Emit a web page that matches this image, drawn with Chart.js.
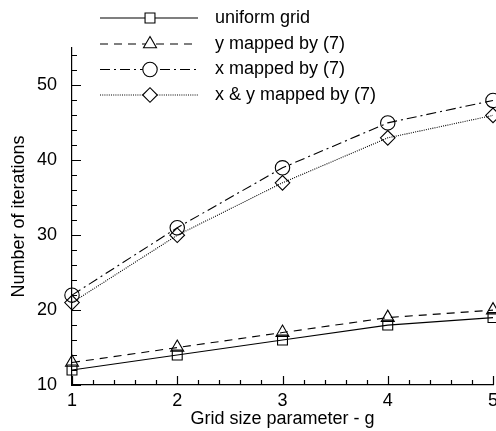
<!DOCTYPE html>
<html>
<head>
<meta charset="utf-8">
<style>
  html, body { margin: 0; padding: 0; background: #fff; }
  #wrap { width: 496px; height: 431px; }
</style>
<script src="https://cdn.jsdelivr.net/npm/chart.js@4/dist/chart.umd.min.js"></script>
</head>
<body>
<div id="wrap"><canvas id="c" width="496" height="431"></canvas></div>
<script>
// Iteration counts per grid size parameter g
const gridSizes = [1, 2, 3, 4, 5];
const uniformGrid = [12, 14, 16, 18, 19];
const yMapped = [13, 15, 17, 19, 20];
const xMapped = [22, 31, 39, 45, 48];
const xyMapped = [21, 30, 37, 43, 46];
const seriesNames = ['uniform grid', 'y mapped by (7)', 'x mapped by (7)', 'x & y mapped by (7)'];
const xTickLabels = [1, 2, 3, 4, 5];
const yTickLabels = [10, 20, 30, 40, 50];

const FONT = '"Liberation Sans", Arial, Helvetica, sans-serif';
const FS = 18;

function toPoints(values) {
  return gridSizes.map((g, i) => ({ x: g, y: values[i] }));
}

const styles = [
  { dash: [], point: 'rect', radius: 7 },
  { dash: [8, 6], point: 'triangle', radius: 7.5 },
  { dash: [10, 4, 2, 4], point: 'circle', radius: 7.2 },
  { dash: [1, 1.2], point: 'rectRot', radius: 7.3 }
];
const seriesValues = [uniformGrid, yMapped, xMapped, xyMapped];

const datasets = seriesValues.map((vals, i) => ({
  label: seriesNames[i],
  data: toPoints(vals),
  borderColor: '#000',
  borderWidth: 1.1,
  borderDash: styles[i].dash,
  pointStyle: styles[i].point,
  pointRadius: styles[i].radius,
  pointBorderWidth: 1.1,
  pointBorderColor: '#000',
  pointBackgroundColor: 'rgba(0,0,0,0)',
  fill: false,
  tension: 0,
  clip: false
}));

// Inward-pointing major and minor tick marks on both axes
const inwardTicks = {
  id: 'inwardTicks',
  afterDraw(chart) {
    const ctx = chart.ctx;
    const xs = chart.scales.x, ys = chart.scales.y;
    const area = chart.chartArea;
    ctx.save();
    ctx.strokeStyle = '#000';
    ctx.lineWidth = 1.2;
    ctx.beginPath();
    for (let v = ys.min; v <= ys.max - 1 + 1e-9; v += 2) {
      const py = Math.round(ys.getPixelForValue(v)) + 0.5;
      const len = (v % 10 === 0) ? 9 : 5;
      ctx.moveTo(area.left, py);
      ctx.lineTo(area.left + len, py);
    }
    for (let k = 0; k <= 20; k++) {
      const v = xs.min + k * 0.2;
      const px = Math.round(xs.getPixelForValue(v)) + 0.5;
      const len = (k % 5 === 0) ? 9 : 5;
      ctx.moveTo(px, area.bottom);
      ctx.lineTo(px, area.bottom - len);
    }
    ctx.stroke();
    ctx.restore();
  }
};

// Legend rows: line sample with centred marker, then the series name
const lineLegend = {
  id: 'lineLegend',
  afterDraw(chart) {
    const ctx = chart.ctx;
    const x0 = 100, x1 = 198, xm = 150, tx = 215;
    const rows = [18, 44, 69.5, 95];
    ctx.save();
    chart.data.datasets.forEach((ds, i) => {
      const y = rows[i];
      ctx.strokeStyle = '#000';
      ctx.lineWidth = 1.1;
      ctx.setLineDash(ds.borderDash);
      ctx.beginPath();
      ctx.moveTo(x0, y);
      ctx.lineTo(x1, y);
      ctx.stroke();
      ctx.setLineDash([]);
      ctx.fillStyle = '#fff';
      Chart.helpers.drawPoint(ctx, {
        pointStyle: ds.pointStyle, radius: ds.pointRadius, borderWidth: 1.1
      }, xm, y);
      ctx.fillStyle = '#000';
      ctx.font = FS + 'px ' + FONT;
      ctx.textAlign = 'left';
      ctx.textBaseline = 'middle';
      ctx.fillText(ds.label, tx, y);
    });
    ctx.restore();
  }
};

new Chart(document.getElementById('c'), {
  type: 'line',
  data: { datasets },
  options: {
    responsive: false,
    devicePixelRatio: 1,
    animation: false,
    layout: { autoPadding: false, padding: { top: 48, right: 3, left: 0, bottom: 0 } },
    plugins: { legend: { display: false }, tooltip: { enabled: false } },
    scales: {
      x: {
        type: 'linear',
        min: 1,
        max: 5,
        afterBuildTicks(scale) { scale.ticks = xTickLabels.map(v => ({ value: v })); },
        afterFit(scale) { scale.height = 46; scale.paddingLeft = 0; scale.paddingRight = 0; },
        grid: { display: false, drawTicks: false },
        border: { display: true, color: '#000', width: 1.2 },
        ticks: { color: '#000', padding: 5, maxRotation: 0, font: { family: FONT, size: FS } },
        title: { display: true, text: 'Grid size parameter - g', color: '#000',
                 padding: { top: 0, bottom: 1 }, font: { family: FONT, size: FS } }
      },
      y: {
        type: 'linear',
        min: 10,
        max: 55,
        afterBuildTicks(scale) { scale.ticks = yTickLabels.map(v => ({ value: v })); },
        afterFit(scale) { scale.width = 72; scale.paddingTop = 0; scale.paddingBottom = 0; },
        grid: { display: false, drawTicks: false },
        border: { display: true, color: '#000', width: 1.2 },
        ticks: { color: '#000', padding: 15, font: { family: FONT, size: FS } },
        title: { display: true, text: 'Number of iterations', color: '#000',
                 padding: { top: 8, bottom: 0 }, font: { family: FONT, size: FS } }
      }
    }
  },
  plugins: [inwardTicks, lineLegend]
});
</script>
</body>
</html>
